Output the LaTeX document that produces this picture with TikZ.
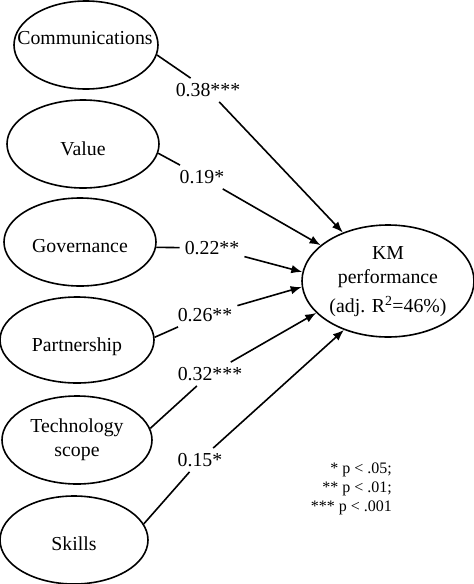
\documentclass[tikz,border=0pt]{standalone}
\usepackage{fontspec}
\setmainfont{Liberation Serif}
\usetikzlibrary{shapes.geometric,arrows.meta}
\begin{document}
\begin{tikzpicture}[x=1pt,y=-1pt,
  oval/.style={draw, ellipse, line width=1.6pt, inner sep=0pt},
  txt/.style={font=\fontsize{19.8}{24}\selectfont, inner sep=0pt, align=center},
  coef/.style={font=\fontsize{19.8}{24}\selectfont, inner sep=5pt},
  link/.style={line width=1.6pt},
  arr/.style={line width=1.6pt, -{Latex[length=11pt,width=8.5pt]}},
  legend/.style={font=\fontsize{16}{19}\selectfont, align=right, inner sep=0pt}]
\useasboundingbox (0,0) rectangle (474,584);
% predictor ellipses
\node[oval, minimum width=144pt, minimum height=88pt] (comm) at (86,45) {};
\node[oval, minimum width=152pt, minimum height=88pt] (value) at (83,144) {};
\node[oval, minimum width=152pt, minimum height=88pt] (gov) at (80,242) {};
\node[oval, minimum width=154pt, minimum height=86pt] (part) at (77,340) {};
\node[oval, minimum width=150pt, minimum height=88pt] (tech) at (77,440) {};
\node[oval, minimum width=148pt, minimum height=88pt] (skills) at (74,540) {};
% texts
\node[txt] (commT) at (85,38) {Communications};
\node[txt] (valueT) at (83,148.5) {Value};
\node[txt] (govT) at (80,246.5) {Governance};
\node[txt] (partT) at (77,346.5) {Partnership};
\node[txt] (techT) at (77,440) {Technology\\scope};
\node[txt] (skillsT) at (74,543.5) {Skills};
% outcome
\node[oval, minimum width=172pt, minimum height=112pt] (km) at (388,281) {};
\node[txt] (kmT) at (388,282) {KM\\performance\\[5pt](adj. R\textsuperscript{2}=46\%)};
% coefficients
\node[coef] (l1) at (208,90) {0.38***};
\node[coef] (l2) at (202,177) {0.19*};
\node[coef] (l3) at (212,248) {0.22**};
\node[coef] (l4) at (205,315) {0.26**};
\node[coef] (l5) at (210,374) {0.32***};
\node[coef] (l6) at (200,460) {0.15*};
% connectors
\draw[link] (comm.-8) -- (l1);
\draw[arr] (l1) -- (km.133);
\draw[link] (value.-7) -- (l2);
\draw[arr] (l2) -- (km.152);
\draw[link] (gov.-4) -- (l3);
\draw[arr] (l3) -- (km.174);
\draw[link] (part.2) -- (l4);
\draw[arr] (l4) -- (km.184);
\draw[link] (tech.9) -- (l5);
\draw[arr] (l5) -- (km.204);
\draw[link] (skills.13) -- (l6);
\draw[arr] (l6) -- (km.228);
% legend
\node[legend, anchor=east] (leg) at (392,489) {* p < .05;\\** p < .01;\\*** p < .001};
\end{tikzpicture}
\end{document}
